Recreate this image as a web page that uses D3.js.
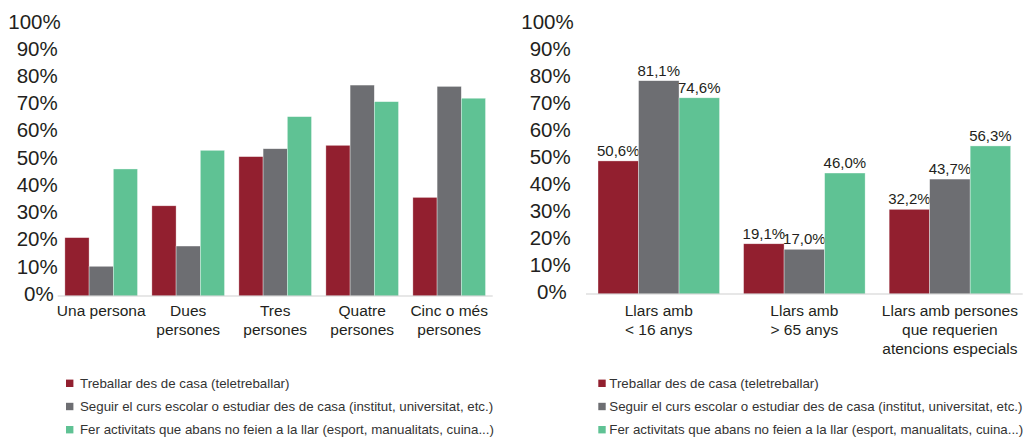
<!DOCTYPE html>
<html>
<head>
<meta charset="utf-8">
<script src="https://cdn.jsdelivr.net/npm/d3@7"></script>
<style>
  body { margin: 0; background: #fff; }
  svg text { font-family: "Liberation Sans", Arial, sans-serif; fill: #231f20; }
</style>
</head>
<body>
<svg id="chart" width="1029" height="437"></svg>
<script>
// series
var seriesNames = [
    "Treballar des de casa (teletreballar)",
    "Seguir el curs escolar o estudiar des de casa (institut, universitat, etc.)",
    "Fer activitats que abans no feien a la llar (esport, manualitats, cuina...)"
];
var seriesColors = ["#921f2f", "#6d6e72", "#5fc294"];

// left chart: size of household
var leftCategories = [["Una persona"], ["Dues", "persones"], ["Tres", "persones"], ["Quatre", "persones"], ["Cinc o més", "persones"]];
var leftTreballar = [22.2, 34.3, 53.0, 57.3, 37.5];
var leftEstudiar = [11.3, 19.0, 56.0, 80.2, 79.7];
var leftActivitats = [48.3, 55.4, 68.2, 73.9, 75.2];

// right chart: type of household
var rightCategories = [["Llars amb", "< 16 anys"], ["Llars amb", "> 65 anys"], ["Llars amb persones", "que requerien", "atencions especials"]];
var rightTreballar = [50.6, 19.1, 32.2];
var rightEstudiar = [81.1, 17.0, 43.7];
var rightActivitats = [74.6, 46.0, 56.3];

var tickValues = [0, 10, 20, 30, 40, 50, 60, 70, 80, 90, 100];

var svg = d3.select("#chart");
var fmt = d3.format(".1f");

function drawPanel(opt) {
    var g = svg.append("g");
    var series = [opt.s1, opt.s2, opt.s3];

    var x = d3.scaleBand()
        .domain(d3.range(opt.cats.length))
        .range([opt.x0, opt.x1])
        .paddingInner(0.165)
        .paddingOuter(0.0825);
    var xs = d3.scaleBand()
        .domain([0, 1, 2])
        .range([0, x.bandwidth()]);
    var y = d3.scaleLinear().domain([0, 100]).range([opt.base, opt.base - 263]);
    // tick labels sit on their own spacing in the original picture
    var yLab = d3.scaleLinear().domain([0, 100]).range([opt.base - 2.7, 21]);

    // tick labels
    g.append("g").selectAll("text").data(tickValues).enter()
        .append("text")
        .attr("x", function (d) { return d == 100 ? opt.tickX + 3 : (d == 0 ? opt.tickX - 4 : opt.tickX); })
        .attr("y", function (d) { return yLab(d); })
        .attr("text-anchor", "end")
        .attr("dominant-baseline", "central")
        .attr("font-size", "20.5px")
        .text(function (d) { return d + "%"; });

    // bars
    series.forEach(function (vals, si) {
        g.append("g").selectAll("rect").data(vals).enter()
            .append("rect")
            .attr("x", function (d, i) { return x(i) + xs(si); })
            .attr("width", xs.bandwidth())
            .attr("y", function (d) { return y(d); })
            .attr("height", function (d) { return opt.base - y(d); })
            .style("fill", seriesColors[si])
            .style("stroke", "rgba(255,255,255,0.6)")
            .style("stroke-width", 0.6);

        if (opt.labels) {
            g.append("g").selectAll("text").data(vals).enter()
                .append("text")
                .attr("x", function (d, i) { return x(i) + xs(si) + xs.bandwidth() / 2; })
                .attr("y", function (d) { return y(d) - 5; })
                .attr("text-anchor", "middle")
                .attr("font-size", "15px")
                .text(function (d) { return fmt(d).replace(".", ",") + "%"; });
        }
    });

    // axis line
    g.append("line")
        .attr("x1", opt.x0).attr("x2", opt.x1)
        .attr("y1", opt.base).attr("y2", opt.base)
        .style("stroke", "#cfcfcf")
        .style("stroke-width", 1.2);

    // category labels
    var cat = g.append("g").selectAll("text").data(opt.cats).enter()
        .append("text")
        .attr("x", function (d, i) { return x(i) + x.bandwidth() / 2; })
        .attr("y", 310)
        .attr("text-anchor", "middle")
        .attr("font-size", "15.5px");
    cat.selectAll("tspan").data(function (d) { return d; }).enter()
        .append("tspan")
        .attr("x", function () { return d3.select(this.parentNode).attr("x"); })
        .attr("y", function (d, j) { return 310 + j * 19; })
        .attr("dominant-baseline", "central")
        .text(function (d) { return d; });

    // legend
    var lg = g.append("g").selectAll("g").data(seriesNames).enter()
        .append("g")
        .attr("transform", function (d, i) { return "translate(" + opt.legX + "," + (383.3 + i * 23.2) + ")"; });
    lg.append("rect")
        .attr("x", 0).attr("y", -3.7)
        .attr("width", 7.4).attr("height", 7.4)
        .style("fill", function (d, i) { return seriesColors[i]; });
    lg.append("text")
        .attr("x", opt.legGap)
        .attr("y", 0)
        .attr("dominant-baseline", "central")
        .attr("font-size", "13.3px")
        .style("fill", "#333")
        .text(function (d) { return d; });
}

drawPanel({
    cats: leftCategories, s1: leftTreballar, s2: leftEstudiar, s3: leftActivitats,
    x0: 57.7, x1: 492.7, base: 296, tickX: 57.7, labels: false,
    legX: 66, legGap: 14
});

drawPanel({
    cats: rightCategories, s1: rightTreballar, s2: rightEstudiar, s3: rightActivitats,
    x0: 586, x1: 1022.7, base: 294, tickX: 570.7, labels: true,
    legX: 598.3, legGap: 11
});
</script>
</body>
</html>
